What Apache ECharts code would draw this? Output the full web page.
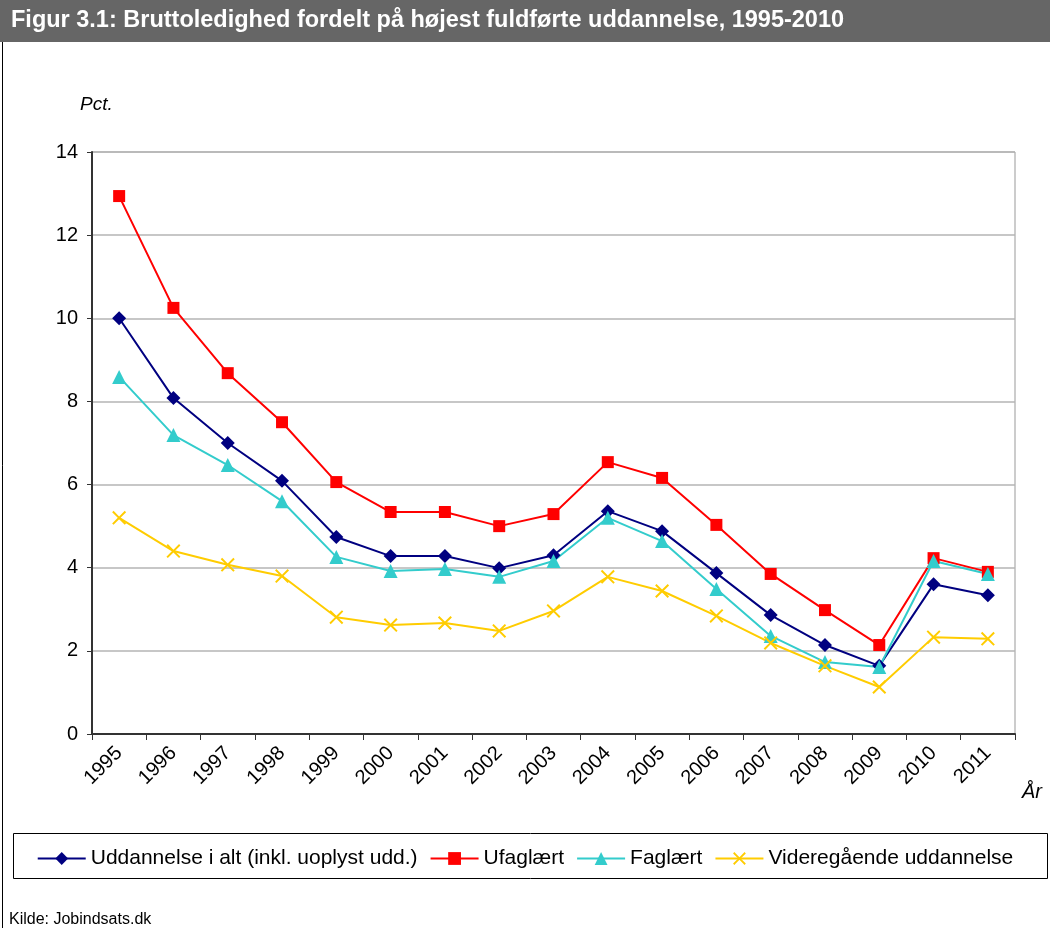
<!DOCTYPE html>
<html>
<head>
<meta charset="utf-8">
<script src="https://cdn.jsdelivr.net/npm/echarts@6/dist/echarts.min.js"></script>
<style>
  html, body { margin: 0; padding: 0; background: #fff; }
  #chart { width: 1050px; height: 928px; }
</style>
</head>
<body>
<div id="chart"></div>
<script>
// data
const years = ["1995","1996","1997","1998","1999","2000","2001","2002","2003","2004","2005","2006","2007","2008","2009","2010","2011"];
const iAlt = [10.0, 8.08, 7.0, 6.09, 4.74, 4.28, 4.28, 3.99, 4.3, 5.36, 4.88, 3.87, 2.86, 2.14, 1.64, 3.6, 3.34];
const ufaglaert = [12.94, 10.25, 8.68, 7.5, 6.06, 5.34, 5.34, 5.0, 5.29, 6.54, 6.16, 5.03, 3.85, 2.98, 2.14, 4.23, 3.9];
const faglaert = [8.59, 7.19, 6.47, 5.6, 4.26, 3.92, 3.97, 3.78, 4.16, 5.2, 4.64, 3.49, 2.36, 1.73, 1.61, 4.16, 3.85];
const videregaaende = [5.2, 4.4, 4.07, 3.8, 2.81, 2.62, 2.67, 2.48, 2.96, 3.78, 3.44, 2.84, 2.19, 1.64, 1.13, 2.33, 2.29];

const FONT = "Liberation Sans, Arial, sans-serif";
const crossSymbol = "path://M0,1L1,0L5,4L9,0L10,1L6,5L10,9L9,10L5,6L1,10L0,9L4,5Z";

function lineSeries(name, data, color, symbol, size) {
  return {
    name: name,
    type: "line",
    data: data,
    symbol: symbol,
    symbolSize: size,
    lineStyle: { color: color, width: 2 },
    itemStyle: { color: color },
    emphasis: { disabled: true },
    z: 3
  };
}

const myChart = echarts.init(document.getElementById("chart"));

const option = {
  animation: false,
  textStyle: { fontFamily: FONT },
  graphic: [
    { type: "rect", left: 0, top: 0, shape: { width: 1050, height: 42 }, style: { fill: "#666666" }, z: 1 },
    { type: "text", left: 11, top: 9, style: { text: "Figur 3.1: Bruttoledighed fordelt på højest fuldførte uddannelse, 1995-2010", fill: "#fff", font: "bold 23.5px " + FONT }, z: 2 },
    { type: "rect", left: 0, top: 0, shape: { width: 1049, height: 927 }, style: { fill: "none", stroke: "#000", lineWidth: 1 }, z: 0 },
    { type: "text", left: 80, top: 95, style: { text: "Pct.", fill: "#000", font: "italic 19px " + FONT } },
    { type: "text", left: 1022, top: 782, style: { text: "År", fill: "#000", font: "italic 20px " + FONT } },
    { type: "rect", left: 13, top: 833, shape: { width: 1034, height: 45 }, style: { fill: "#fff", stroke: "#000", lineWidth: 1 }, z: 0 },
    { type: "text", left: 9, top: 912, style: { text: "Kilde: Jobindsats.dk", fill: "#000", font: "16px " + FONT } }
  ],
  legend: {
    top: 843,
    left: "center",
    itemWidth: 48,
    itemHeight: 16,
    itemGap: 12,
    textStyle: { fontSize: 21, color: "#000", fontFamily: FONT },
    data: ["Uddannelse i alt (inkl. uoplyst udd.)", "Ufaglært", "Faglært", "Videregående uddannelse"]
  },
  grid: {
    left: 92, right: 35, top: 152, bottom: 194,
    show: true, borderColor: "#999", borderWidth: 1
  },
  xAxis: {
    type: "category",
    data: years,
    boundaryGap: true,
    axisLine: { lineStyle: { color: "#333", width: 2 } },
    axisTick: { show: true, length: 6, lineStyle: { color: "#333" } },
    axisLabel: { rotate: 45, fontSize: 20, color: "#000", margin: 16, fontFamily: FONT }
  },
  yAxis: {
    type: "value",
    min: 0, max: 14, interval: 2,
    axisLine: { show: true, lineStyle: { color: "#333", width: 2 } },
    axisTick: { show: true, length: 5, lineStyle: { color: "#333" } },
    splitLine: { lineStyle: { color: "#b4b4b4", width: 1.5 } },
    axisLabel: { fontSize: 20, color: "#000", margin: 14, fontFamily: FONT }
  },
  series: [
    lineSeries("Uddannelse i alt (inkl. uoplyst udd.)", iAlt, "#000080", "diamond", 14),
    lineSeries("Ufaglært", ufaglaert, "#ff0000", "rect", 12),
    lineSeries("Faglært", faglaert, "#33cccc", "triangle", 14),
    lineSeries("Videregående uddannelse", videregaaende, "#ffcc00", crossSymbol, 14)
  ]
};

myChart.setOption(option);
</script>
</body>
</html>
